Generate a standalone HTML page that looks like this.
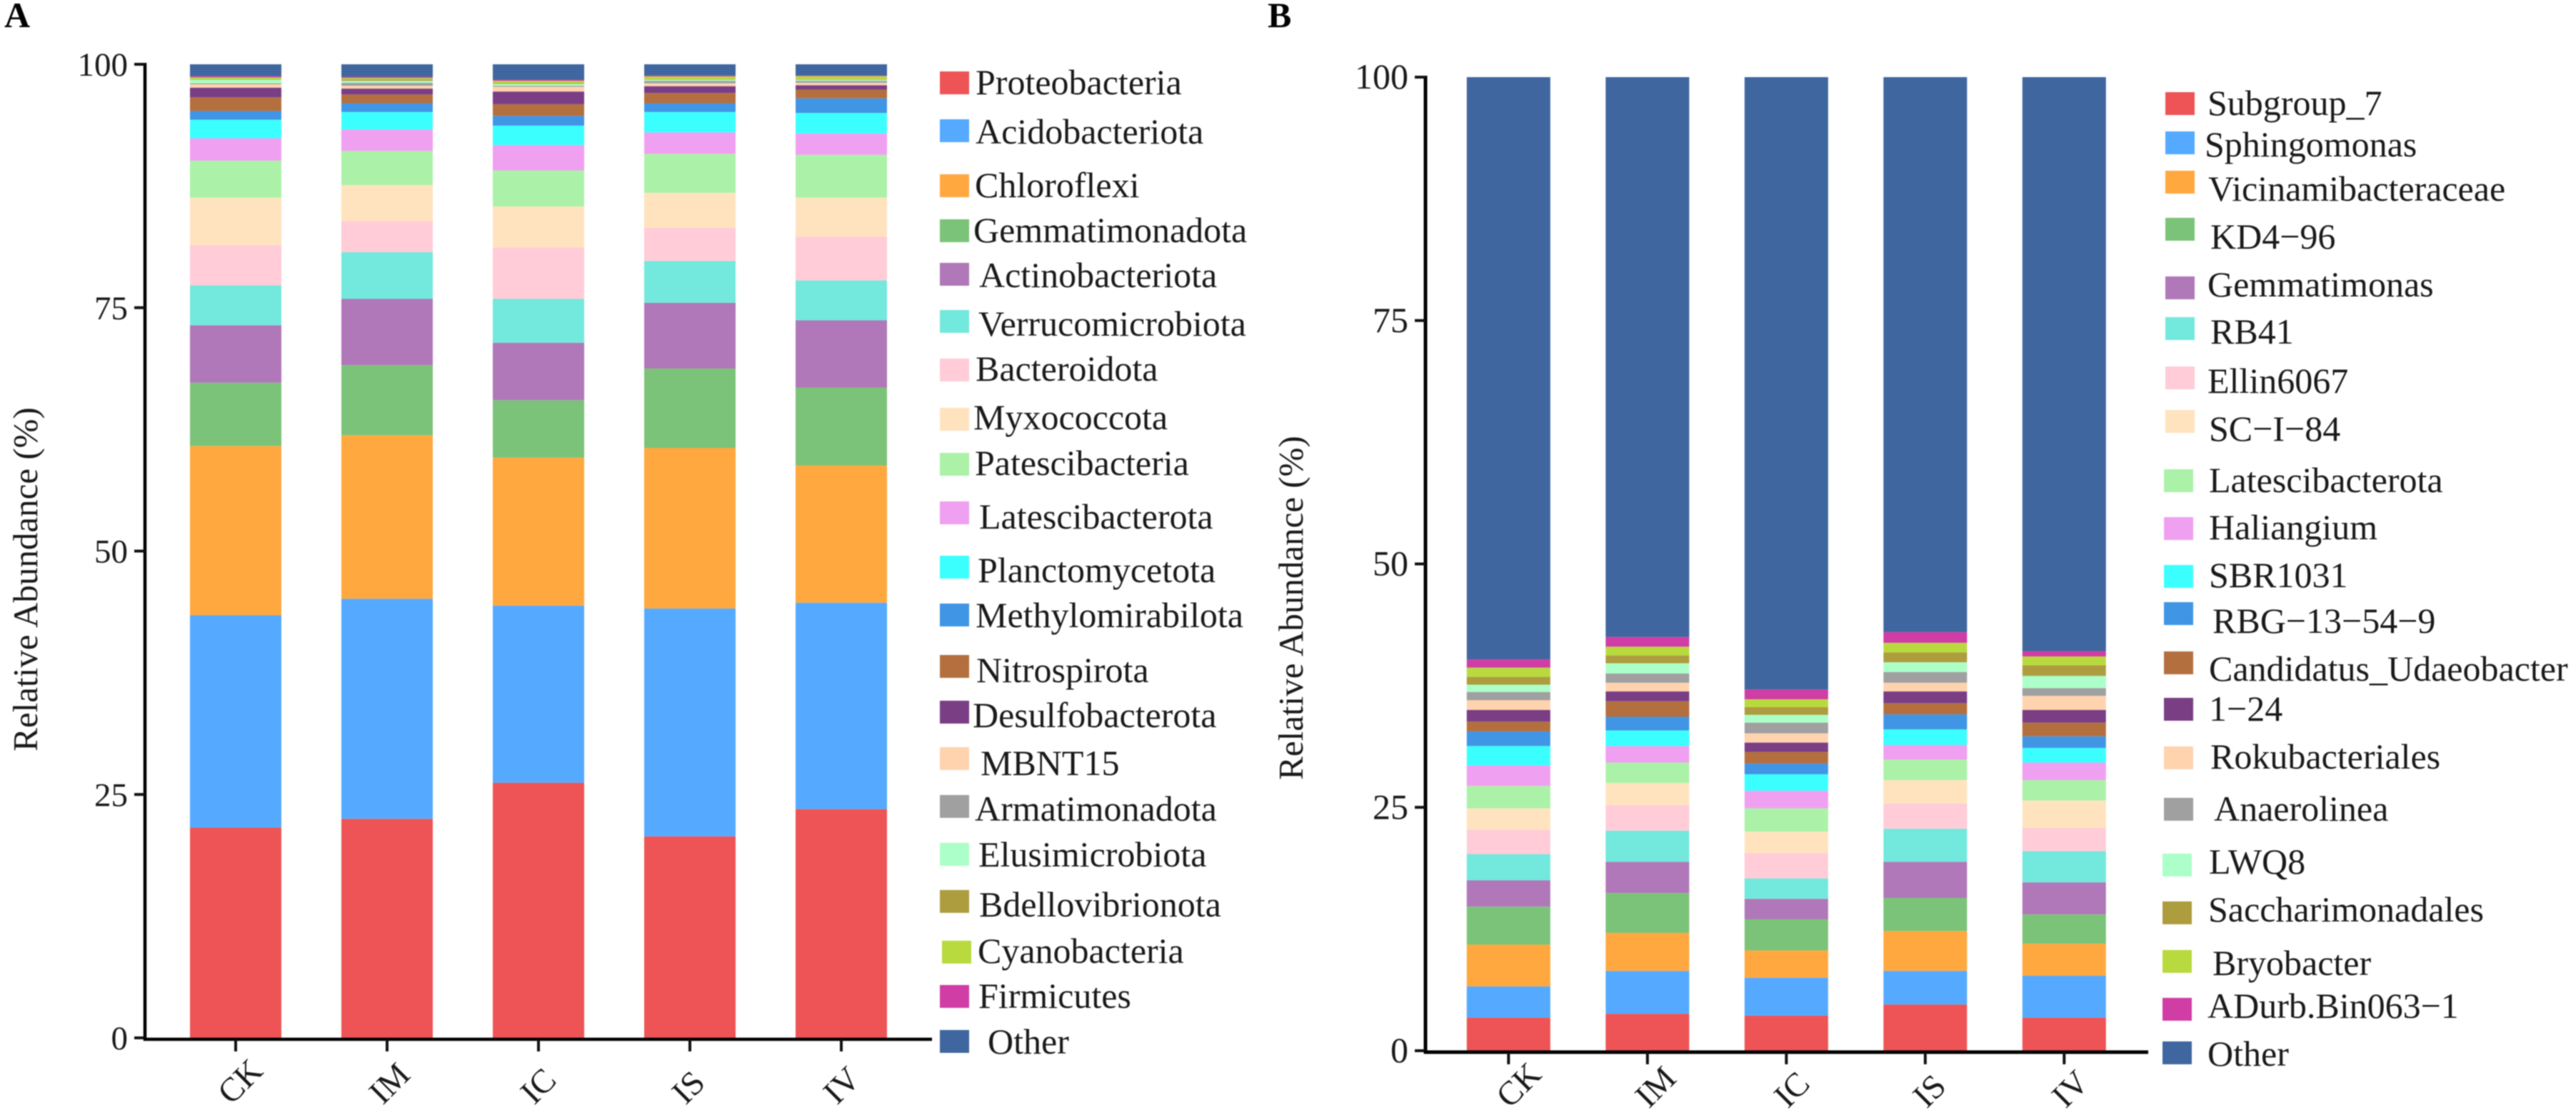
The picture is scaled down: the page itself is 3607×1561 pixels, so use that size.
<!DOCTYPE html>
<html>
<head>
<meta charset="utf-8">
<title>Relative abundance stacked bars</title>
<style>
html,body{margin:0;padding:0;background:#fff;}
svg{display:block;font-family:"Liberation Serif","Times New Roman",serif;fill:#1a1a1a;filter:blur(0.7px);}
.lg{font-size:50px;}
.tick{text-anchor:end;}
.cat{font-size:47px;text-anchor:start;}
.title{font-size:49px;text-anchor:middle;}
.panel{font-size:50px;font-weight:bold;fill:#000;}
</style>
</head>
<body>
<svg id="fig" width="3607" height="1561" viewBox="0 0 3607 1561" xmlns="http://www.w3.org/2000/svg">
  <rect x="0" y="0" width="3607" height="1561" fill="#fff"/>
  <text class="panel" x="6" y="38">A</text>
  <text class="panel" x="1775" y="38">B</text>
  <g id="panelA"></g>
  <g id="panelB"></g>
  <text class="title" transform="translate(52,811) rotate(-90)">Relative Abundance (%)</text>
  <text class="title" transform="translate(1824,851) rotate(-90)">Relative Abundance (%)</text>

  <g>
    <g><rect x="1316" y="100" width="41" height="32" fill="#EE5455"/><text class="lg" x="1366" y="132">Proteobacteria</text></g>
    <g><rect x="1316" y="167" width="41" height="32" fill="#55AAFF"/><text class="lg" x="1366" y="201">Acidobacteriota</text></g>
    <g><rect x="1316" y="244" width="41" height="32" fill="#FFA83F"/><text class="lg" x="1365" y="276">Chloroflexi</text></g>
    <g><rect x="1316" y="307" width="41" height="32" fill="#7BC378"/><text class="lg" x="1363" y="339">Gemmatimonadota</text></g>
    <g><rect x="1316" y="368" width="41" height="32" fill="#B078B8"/><text class="lg" x="1371" y="402">Actinobacteriota</text></g>
    <g><rect x="1316" y="434" width="41" height="32" fill="#73E8DC"/><text class="lg" x="1370" y="470">Verrucomicrobiota</text></g>
    <g><rect x="1316" y="502" width="41" height="32" fill="#FFCCD8"/><text class="lg" x="1366" y="533">Bacteroidota</text></g>
    <g><rect x="1316" y="571" width="41" height="32" fill="#FFE3BF"/><text class="lg" x="1363" y="601">Myxococcota</text></g>
    <g><rect x="1316" y="634" width="41" height="32" fill="#ABF2A8"/><text class="lg" x="1365" y="665">Patescibacteria</text></g>
    <g><rect x="1316" y="702" width="41" height="32" fill="#F0A0F0"/><text class="lg" x="1371" y="740">Latescibacterota</text></g>
    <g><rect x="1316" y="778" width="41" height="32" fill="#3BFFFF"/><text class="lg" x="1369" y="815">Planctomycetota</text></g>
    <g><rect x="1316" y="845" width="41" height="32" fill="#4195E5"/><text class="lg" x="1366" y="878">Methylomirabilota</text></g>
    <g><rect x="1316" y="917" width="41" height="32" fill="#B46F3F"/><text class="lg" x="1367" y="955">Nitrospirota</text></g>
    <g><rect x="1316" y="981" width="41" height="32" fill="#7A3E85"/><text class="lg" x="1362" y="1018">Desulfobacterota</text></g>
    <g><rect x="1316" y="1046" width="41" height="32" fill="#FFD3AE"/><text class="lg" x="1373" y="1085">MBNT15</text></g>
    <g><rect x="1316" y="1113" width="41" height="32" fill="#A0A0A0"/><text class="lg" x="1365" y="1149">Armatimonadota</text></g>
    <g><rect x="1316" y="1180" width="41" height="32" fill="#ACFFC8"/><text class="lg" x="1370" y="1213">Elusimicrobiota</text></g>
    <g><rect x="1316" y="1246" width="41" height="32" fill="#AD9D3E"/><text class="lg" x="1371" y="1283">Bdellovibrionota</text></g>
    <g><rect x="1319" y="1317" width="41" height="32" fill="#B9DA3E"/><text class="lg" x="1369" y="1348">Cyanobacteria</text></g>
    <g><rect x="1316" y="1379" width="41" height="32" fill="#D03DA5"/><text class="lg" x="1370" y="1411">Firmicutes</text></g>
    <g><rect x="1316" y="1442" width="41" height="32" fill="#3F669F"/><text class="lg" x="1383" y="1475">Other</text></g>
  </g>

  <g>
    <g><rect x="3032" y="129" width="41" height="32" fill="#EE5455"/><text class="lg" x="3091" y="161">Subgroup_7</text></g>
    <g><rect x="3032" y="184" width="41" height="32" fill="#55AAFF"/><text class="lg" x="3087" y="219">Sphingomonas</text></g>
    <g><rect x="3032" y="239" width="41" height="32" fill="#FFA83F"/><text class="lg" x="3092" y="281">Vicinamibacteraceae</text></g>
    <g><rect x="3032" y="305" width="41" height="32" fill="#7BC378"/><text class="lg" x="3095" y="348">KD4−96</text></g>
    <g><rect x="3032" y="387" width="41" height="32" fill="#B078B8"/><text class="lg" x="3091" y="415">Gemmatimonas</text></g>
    <g><rect x="3032" y="444" width="41" height="32" fill="#73E8DC"/><text class="lg" x="3095" y="481">RB41</text></g>
    <g><rect x="3032" y="513" width="41" height="32" fill="#FFCCD8"/><text class="lg" x="3091" y="550">Ellin6067</text></g>
    <g><rect x="3032" y="574" width="41" height="32" fill="#FFE3BF"/><text class="lg" x="3093" y="617">SC−I−84</text></g>
    <g><rect x="3030" y="657" width="41" height="32" fill="#ABF2A8"/><text class="lg" x="3093" y="689">Latescibacterota</text></g>
    <g><rect x="3030" y="724" width="41" height="32" fill="#F0A0F0"/><text class="lg" x="3093" y="755">Haliangium</text></g>
    <g><rect x="3030" y="791" width="41" height="32" fill="#3BFFFF"/><text class="lg" x="3093" y="822">SBR1031</text></g>
    <g><rect x="3030" y="843" width="41" height="32" fill="#4195E5"/><text class="lg" x="3098" y="886">RBG−13−54−9</text></g>
    <g><rect x="3030" y="912" width="41" height="32" fill="#B46F3F"/><text class="lg" x="3093" y="953">Candidatus_Udaeobacter</text></g>
    <g><rect x="3030" y="977" width="41" height="32" fill="#7A3E85"/><text class="lg" x="3093" y="1009">1−24</text></g>
    <g><rect x="3030" y="1045" width="41" height="32" fill="#FFD3AE"/><text class="lg" x="3095" y="1076">Rokubacteriales</text></g>
    <g><rect x="3030" y="1117" width="41" height="32" fill="#A0A0A0"/><text class="lg" x="3100" y="1149">Anaerolinea</text></g>
    <g><rect x="3028" y="1195" width="41" height="32" fill="#ACFFC8"/><text class="lg" x="3093" y="1223">LWQ8</text></g>
    <g><rect x="3028" y="1262" width="41" height="32" fill="#AD9D3E"/><text class="lg" x="3092" y="1290">Saccharimonadales</text></g>
    <g><rect x="3028" y="1330" width="41" height="32" fill="#B9DA3E"/><text class="lg" x="3098" y="1365">Bryobacter</text></g>
    <g><rect x="3028" y="1397" width="41" height="32" fill="#D03DA5"/><text class="lg" x="3091" y="1425">ADurb.Bin063−1</text></g>
    <g><rect x="3028" y="1458" width="41" height="32" fill="#3F669F"/><text class="lg" x="3091" y="1492">Other</text></g>
  </g>
</svg>
<script>
// ---- shared data ----
const categories = ["CK", "IM", "IC", "IS", "IV"];
const yTicks = [0, 25, 50, 75, 100];
const seriesColors = ["#EE5455","#55AAFF","#FFA83F","#7BC378","#B078B8","#73E8DC","#FFCCD8","#FFE3BF","#ABF2A8","#F0A0F0","#3BFFFF","#4195E5","#B46F3F","#7A3E85","#FFD3AE","#A0A0A0","#ACFFC8","#AD9D3E","#B9DA3E","#D03DA5","#3F669F"];

// ---- panel A: phylum level, one row per sample, bottom to top ----
const phylaCK = [21.6,21.8,17.4,6.5,5.9,4.1,4.1,4.9,3.8,2.3,1.9,0.9,1.4,1.0,0.35,0.1,0.35,0.05,0.2,0.13,1.22];
const phylaIM = [22.5,22.6,16.8,7.2,6.8,4.8,3.2,3.7,3.5,2.2,1.8,0.9,0.9,0.6,0.3,0.3,0.2,0.15,0.15,0.12,1.28];
const phylaIC = [26.2,18.2,15.2,5.9,5.9,4.5,5.3,4.2,3.7,2.6,2.0,1.0,1.2,1.3,0.5,0.1,0.2,0.1,0.2,0.12,1.58];
const phylaIS = [20.7,23.4,16.5,8.15,6.75,4.3,3.4,3.6,4.0,2.2,2.1,0.9,1.05,0.7,0.3,0.25,0.12,0.04,0.29,0.1,1.15];
const phylaIV = [23.5,21.2,14.1,8.0,6.9,4.1,4.5,4.0,4.4,2.2,2.1,1.5,0.9,0.45,0.25,0.2,0.12,0.04,0.32,0.07,1.15];

// ---- panel B: genus level, one row per sample, bottom to top ----
const generaCK = [3.4,3.2,4.3,3.9,2.7,2.7,2.5,2.2,2.3,2.1,2.0,1.5,1.0,1.2,1.0,0.85,0.75,0.8,0.95,0.85,59.8];
const generaIM = [3.8,4.4,3.9,4.1,3.2,3.2,2.6,2.3,2.1,1.7,1.6,1.4,1.6,1.0,0.9,0.95,1.05,0.8,0.9,1.0,57.5];
const generaIC = [3.6,3.9,2.8,3.2,2.1,2.1,2.6,2.2,2.4,1.8,1.7,1.1,1.2,0.95,0.95,1.1,0.8,0.8,0.8,1.0,62.9];
const generaIS = [4.75,3.45,4.1,3.4,3.7,3.4,2.6,2.4,2.1,1.5,1.6,1.55,1.15,1.2,0.9,1.1,1.0,1.0,1.0,1.1,57.0];
const generaIV = [3.4,4.3,3.3,3.0,3.3,3.2,2.4,2.8,2.1,1.8,1.5,1.2,1.4,1.3,1.45,0.8,1.25,1.1,0.9,0.55,58.95];

const phylaRows = [phylaCK, phylaIM, phylaIC, phylaIS, phylaIV];
const generaRows = [generaCK, generaIM, generaIC, generaIS, generaIV];

const NS = "http://www.w3.org/2000/svg";
function mk(tag, attrs, parent) {
  const el = document.createElementNS(NS, tag);
  for (const k in attrs) el.setAttribute(k, attrs[k]);
  parent.appendChild(el);
  return el;
}

function drawPanel(group, rows, g) {
  const yScale = v => g.y0 - v * g.pxPerUnit;
  const xScale = i => g.x0 + i * g.pitch;

  // bars
  rows.forEach((row, c) => {
    let sum = 0;
    row.forEach((v, s) => {
      const top = yScale(sum + v);
      const bottom = yScale(sum);
      const r = mk("rect", {x: xScale(c) - g.barW / 2, y: top, width: g.barW, height: bottom - top, fill: seriesColors[s]}, group);
      
      
      sum += v;
    });
  });

  // y axis
  const yLine = mk("line", {x1: g.axisX, x2: g.axisX, y1: yScale(100) - 2, y2: g.baseY + 2, stroke: "#000", "stroke-width": g.axisW}, group);
  
  
  yTicks.forEach(t => {
    const y = yScale(t);
    const tk = mk("line", {x1: g.axisX - 15, x2: g.axisX, y1: y, y2: y, stroke: "#111", "stroke-width": 4}, group);
    
    
    const lb = mk("text", {x: g.axisX - 24, y: y + 16, class: "tick", "font-size": g.tickSize}, group);
    
    
    lb.textContent = t;
  });

  // x axis
  const xLine = mk("line", {x1: g.axisX - 2, x2: g.axisEnd, y1: g.baseY, y2: g.baseY, stroke: "#000", "stroke-width": g.axisW}, group);
  
  
  categories.forEach((cat, i) => {
    const x = xScale(i);
    const tk = mk("line", {x1: x, x2: x, y1: g.baseY, y2: g.baseY + 17, stroke: "#111", "stroke-width": 4}, group);
    
    
    const lb = mk("text", {class: "cat", transform: "translate(" + (x + g.labelDx) + "," + (g.baseY + g.labelDy) + ") rotate(-45)"}, group);
    
    
    lb.textContent = cat;
  });
}

drawPanel(document.getElementById("panelA"), phylaRows, {y0: 1453, pxPerUnit: 13.63, x0: 330, pitch: 212, barW: 128, axisX: 203, axisEnd: 1305, baseY: 1455, axisW: 4.5, tickSize: 47, labelDx: -6, labelDy: 93});
drawPanel(document.getElementById("panelB"), generaRows, {y0: 1471, pxPerUnit: 13.63, x0: 2112.3, pitch: 194.5, barW: 117, axisX: 1996, axisEnd: 3008, baseY: 1473, axisW: 5, tickSize: 50, labelDx: 2, labelDy: 80});
</script>
</body>
</html>
